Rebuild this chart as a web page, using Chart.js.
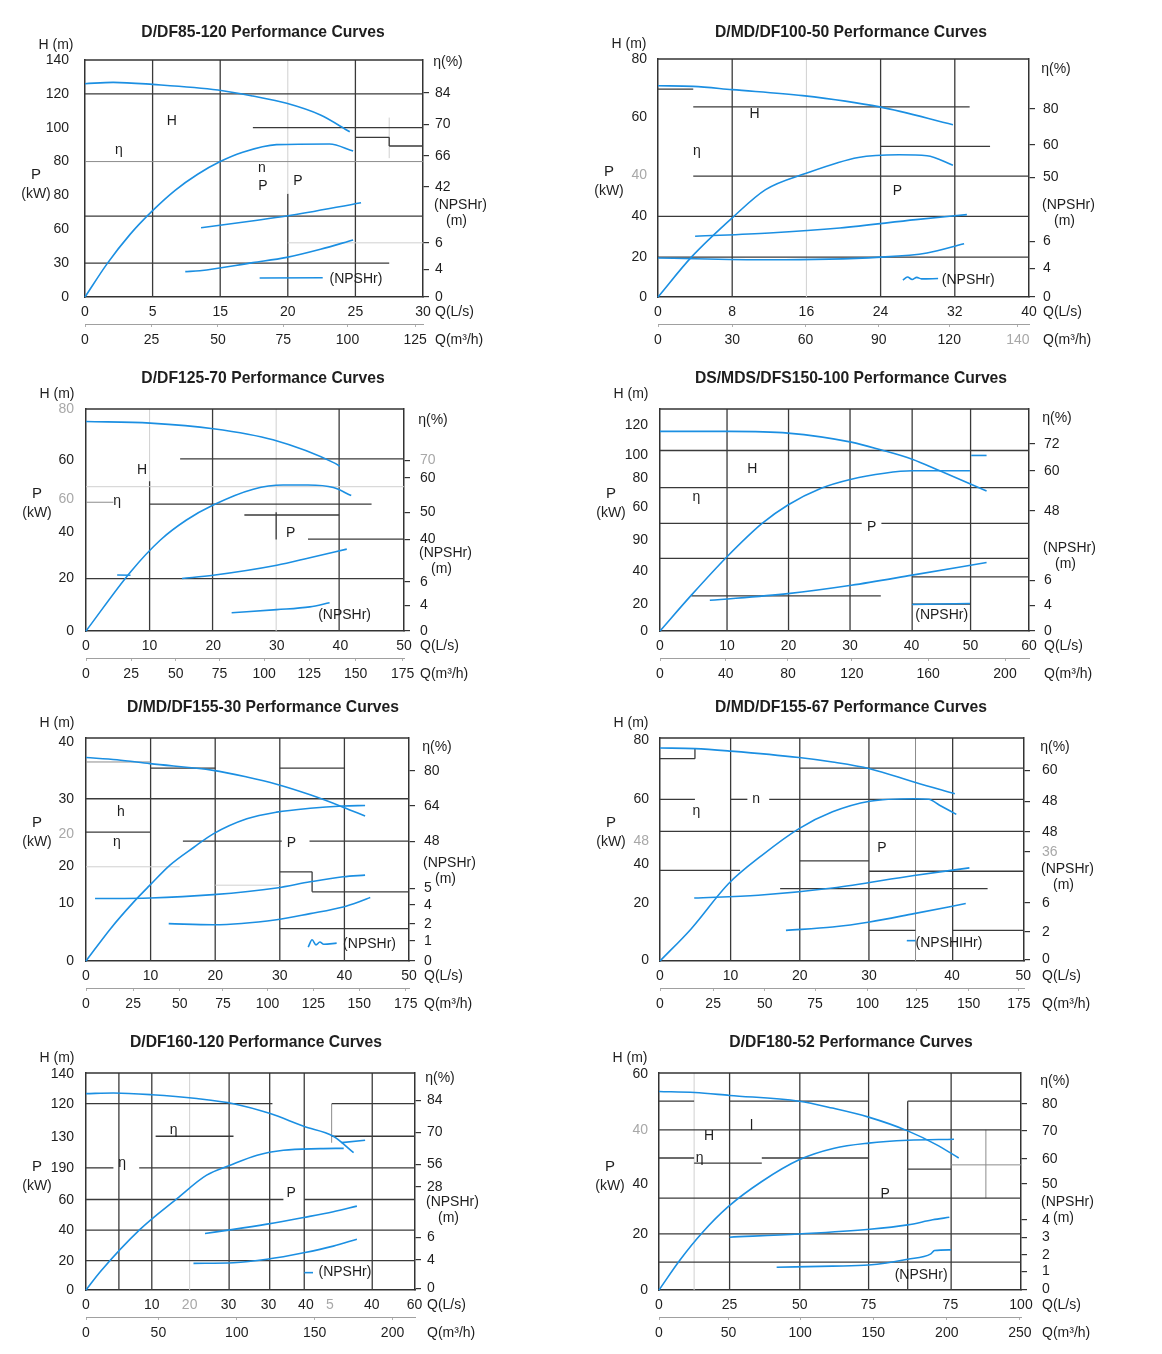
<!DOCTYPE html>
<html>
<head>
<meta charset="utf-8">
<script src="https://cdn.jsdelivr.net/npm/chart.js@4.4.1/dist/chart.umd.min.js"></script>
<style>
  html, body { margin: 0; padding: 0; background: #fff; }
  #page { position: relative; width: 1162px; height: 1354px; overflow: hidden; }
  .box { position: absolute; }
</style>
</head>
<body>
<div id="page">
  <div class="box" style="left:0;top:0;width:580px;height:360px"><canvas id="c1"></canvas></div>
  <div class="box" style="left:580px;top:0;width:582px;height:360px"><canvas id="c2"></canvas></div>
  <div class="box" style="left:0;top:360px;width:580px;height:328px"><canvas id="c3"></canvas></div>
  <div class="box" style="left:580px;top:360px;width:582px;height:328px"><canvas id="c4"></canvas></div>
  <div class="box" style="left:0;top:688px;width:580px;height:332px"><canvas id="c5"></canvas></div>
  <div class="box" style="left:580px;top:688px;width:582px;height:332px"><canvas id="c6"></canvas></div>
  <div class="box" style="left:0;top:1020px;width:580px;height:334px"><canvas id="c7"></canvas></div>
  <div class="box" style="left:580px;top:1020px;width:582px;height:334px"><canvas id="c8"></canvas></div>
</div>
<script>
// ---- chart 1: D/DF85-120
const c1Title = "D/DF85-120 Performance Curves";
const c1Range = [30, 140];
const c1YVals = [0, 20, 40, 60, 80, 100, 120, 140];
const c1YLabs = ["0", "30", "60", "80", "80", "100", "120", "140"];
const c1RVals = [0, 16.4, 32, 65, 83.3, 102, 120.6];
const c1RLabs = ["0", "4", "6", "42", "66", "70", "84"];
const c1XVals = [0, 6, 12, 18, 24, 30];
const c1XLabs = ["0", "5", "15", "20", "25", "30"];
const c1QVals = [0, 5.9, 11.8, 17.6, 23.3, 29.3];
const c1QLabs = ["0", "25", "50", "75", "100", "125"];
const c1H = [[0, 126], [2.5, 126.8], [6, 125.6], [11.8, 122.3], [14.9, 118.7], [17.9, 114.4], [20.9, 107.5], [23.5, 97.6]];
const c1Eta = [[0, 0], [2, 20], [4, 37], [6, 51], [8, 63], [10, 72.5], [12, 80], [14, 85.5], [17, 90], [21.7, 90.4], [23.8, 86.2]];
const c1P = [[10.3, 40.9], [14.8, 44.9], [17.9, 47.8], [24.5, 55.7]];
const c1Npsh = [[8.9, 15], [10.2, 15.5], [14.9, 20.3], [17.9, 23.4], [20.9, 28.2], [23.8, 33.7]];
const c1Keys = [[[15.5, 11.2], [21.1, 11.4]]];
const c1Notes = [["H", 7.7, 103.6], ["η", 3, 86.8], ["n", 15.7, 76], ["P", 15.8, 65.7], ["P", 18.9, 68.5], ["(NPSHr)", 21.7, 10.6, "l"]];
const c1Grid = [
  ["v", 6, 0, 140, 1], ["v", 12, 0, 140, 1], ["v", 18, 0, 61, 1], ["v", 18, 61, 140, 0], ["v", 24, 0, 140, 1],
  ["v", 27, 82, 106, 0], ["v", 27, 89.2, 94.3, 1],
  ["h", 120, 0, 30, 1], ["h", 100, 14.9, 30, 1], ["h", 80, 0, 30, 0.5], ["h", 94.3, 24, 27, 1], ["h", 89.2, 27, 30, 1],
  ["h", 47.8, 0, 30, 1], ["h", 32, 18, 30, 0], ["h", 20, 0, 27, 1]
];

// ---- chart 2: D/MD/DF100-50
const c2Title = "D/MD/DF100-50 Performance Curves";
const c2Range = [40, 80];
const c2YVals = [0, 13.4, 27.3, 41.1, 60.5, 80];
const c2YLabs = ["0", "20", "40", "40", "60", "80"];
const c2RVals = [0, 9.7, 18.7, 40.2, 51.2, 63.2];
const c2RLabs = ["0", "4", "6", "50", "60", "80"];
const c2XVals = [0, 8, 16, 24, 32, 40];
const c2XLabs = ["0", "8", "16", "24", "32", "40"];
const c2QVals = [0, 8, 15.9, 23.8, 31.4, 38.8];
const c2QLabs = ["0", "30", "60", "90", "120", "140"];
const c2H = [[0, 71], [3.8, 70.8], [8, 69.7], [15.6, 67.7], [23.9, 63.9], [31.8, 57.9]];
const c2Eta = [[0, 0], [3.6, 13.4], [8, 26.6], [11.6, 36.1], [15.9, 41.5], [21.6, 46.9], [26, 47.8], [29, 47.5], [31.8, 44.3]];
const c2P = [[4, 20.4], [12, 21.5], [19.6, 23.2], [27.8, 26], [33.3, 27.7]];
const c2Npsh = [[0, 13.1], [12, 12.5], [24, 13.4], [29, 14.8], [33, 17.9]];
const c2Keys = [[[26.4, 5.7], [26.9, 6.7], [27.4, 5.9], [27.9, 6.6], [28.4, 6.1], [30.2, 6.2]]];
const c2Notes = [["H", 10.4, 61.5], ["η", 4.2, 49], ["P", 25.8, 35.5], ["(NPSHr)", 30.6, 5.8, "l"]];
const c2Grid = [
  ["v", 8, 0, 80, 1], ["v", 16, 0, 80, 0], ["v", 24, 0, 80, 1], ["v", 32, 0, 80, 1],
  ["h", 69.9, 0, 3.8, 1], ["h", 63.9, 3.8, 33.6, 1], ["h", 50.6, 24, 35.8, 1], ["h", 40.6, 3.8, 40, 1],
  ["h", 27.1, 0, 40, 1], ["h", 13.4, 0, 40, 1]
];

// ---- chart 3: D/DF125-70
const c3Title = "D/DF125-70 Performance Curves";
const c3Range = [50, 80];
const c3YVals = [0, 18.9, 35.8, 47.6, 61.4, 80];
const c3YLabs = ["0", "20", "40", "60", "60", "80"];
const c3RVals = [0, 9.3, 17.7, 33.1, 42.8, 55.1, 61.4];
const c3RLabs = ["0", "4", "6", "40", "50", "60", "70"];
const c3XVals = [0, 10, 20, 30, 40, 50];
const c3XLabs = ["0", "10", "20", "30", "40", "50"];
const c3QVals = [0, 7.1, 14.1, 21, 28, 35.1, 42.4, 49.8];
const c3QLabs = ["0", "25", "50", "75", "100", "125", "150", "175"];
const c3H = [[0, 75.5], [10.1, 74.9], [20, 72.9], [29.4, 68.9], [39.1, 60.5], [39.9, 59.4]];
const c3Eta = [[0, 0], [7, 21.3], [11.7, 32.8], [15.8, 40], [20, 45.4], [26.3, 51.1], [31, 52.6], [34.9, 52.6], [38.9, 51.7], [41.7, 48.8]];
const c3P = [[15.1, 18.9], [20, 20.1], [30, 23.7], [35.2, 26.4], [41, 29.5]];
const c3Npsh = [[22.9, 6.6], [30, 7.7], [35.2, 8.7], [38.3, 10.2]];
const c3Keys = [[[4.9, 20.2], [7, 20.1]]];
const c3Notes = [["H", 8.8, 57.8], ["η", 4.9, 46.9], ["P", 32.2, 35.4], ["(NPSHr)", 36.5, 5.7, "l"]];
const c3Grid = [
  ["v", 10, 0, 54, 1], ["v", 10, 54, 80, 0], ["v", 19.9, 0, 80, 1], ["v", 29.9, 0, 80, 0], ["v", 29.9, 33, 42.8, 1], ["v", 39.8, 0, 80, 1],
  ["h", 62, 14.8, 50, 1], ["h", 52, 0, 50, 0], ["h", 46.4, 0, 4.3, 0.5], ["h", 45.7, 10, 44.9, 1], ["h", 41.8, 24.9, 39.8, 1],
  ["h", 33.1, 34.9, 50, 1], ["h", 18.9, 0, 50, 1]
];

// ---- chart 4: DS/MDS/DFS150-100
const c4Title = "DS/MDS/DFS150-100 Performance Curves";
const c4Range = [60, 130];
const c4YVals = [0, 15.7, 35, 53.3, 72.3, 89.5, 103.2, 120.8];
const c4YLabs = ["0", "20", "40", "90", "60", "80", "100", "120"];
const c4RVals = [0, 15.1, 29.8, 70.3, 93.8, 109.6];
const c4RLabs = ["0", "4", "6", "48", "60", "72"];
const c4XVals = [0, 10.9, 20.9, 30.9, 40.9, 50.5, 60];
const c4XLabs = ["0", "10", "20", "30", "40", "50", "60"];
const c4QVals = [0, 10.7, 20.8, 31.2, 43.6, 56.1];
const c4QLabs = ["0", "40", "80", "120", "160", "200"];
const c4H = [[0, 116.9], [11.2, 116.9], [20.8, 115.9], [31.1, 110.6], [35.9, 106.1], [41, 100.6], [45.5, 93.8], [53.1, 82]];
const c4Eta = [[0, 0], [5.1, 21], [10.9, 43.5], [16.6, 63], [20.8, 73.8], [26.2, 83.6], [31.1, 88.9], [36.5, 92.4], [41, 93.8], [50.4, 93.8]];
const c4P = [[8.1, 18], [20.8, 21.9], [31.1, 26.8], [41, 32.7], [53.1, 40.1]];
const c4Npsh = [[41, 15.5], [50.4, 16.1]];
const c4Keys = [[[50.6, 102.8], [53.1, 102.8]]];
const c4Notes = [["H", 15, 94.8], ["η", 5.9, 78.1], ["P", 34.4, 61.1], ["(NPSHr)", 41.5, 9.2, "l"]];
const c4Grid = [
  ["v", 10.9, 0, 130, 1], ["v", 20.9, 0, 130, 1], ["v", 30.9, 0, 130, 1], ["v", 41, 0, 130, 1], ["v", 50.5, 0, 130, 1],
  ["h", 105.7, 0, 60, 1], ["h", 84, 0, 60, 1], ["h", 63, 0, 32.8, 1], ["h", 63, 36, 60, 1], ["h", 42.5, 0, 60, 1],
  ["h", 31.7, 41, 60, 1], ["h", 20.6, 5.1, 35.9, 1], ["h", 15.7, 41, 50.5, 1]
];

// ---- chart 5: D/MD/DF155-30
const c5Title = "D/MD/DF155-30 Performance Curves";
const c5Range = [50, 40];
const c5YVals = [0, 10.3, 17, 22.8, 29, 39.3];
const c5YLabs = ["0", "10", "20", "20", "30", "40"];
const c5RVals = [0, 3.6, 6.7, 10.1, 13, 21.5, 27.8, 34.1];
const c5RLabs = ["0", "1", "2", "4", "5", "48", "64", "80"];
const c5XVals = [0, 10, 20, 30, 40, 50];
const c5XLabs = ["0", "10", "20", "30", "40", "50"];
const c5QVals = [0, 7.3, 14.5, 21.2, 28.1, 35.2, 42.3, 49.5];
const c5QLabs = ["0", "25", "50", "75", "100", "125", "150", "175"];
const c5H = [[0, 36.5], [4.8, 36.1], [9.9, 35.4], [19.7, 34.2], [24.9, 33], [29.5, 31.7], [34.7, 29.8], [39.8, 27.6], [43.2, 26]];
const c5Eta = [[0, 0], [3.8, 5.8], [7.4, 10.6], [9.9, 13.6], [13, 17.2], [16.7, 20.4], [19.7, 22.8], [24.9, 25.5], [29.5, 26.7], [34.7, 27.4], [39.8, 27.8], [43.2, 27.9]];
const c5P = [[1.4, 11.2], [9.9, 11.3], [19.7, 11.9], [29.5, 13.1], [34.7, 14.2], [39.8, 15.1], [43.2, 15.4]];
const c5Npsh = [[12.8, 6.7], [19.7, 6.5], [29.5, 7.4], [34.7, 8.5], [39.8, 9.7], [42.2, 10.6], [44, 11.4]];
const c5Keys = [[[34.4, 2.5], [35, 3.8], [35.6, 2.9], [36.2, 3.4], [36.8, 3], [38.8, 3.2]]];
const c5Notes = [["h", 5.4, 26.7], ["η", 4.8, 21.3], ["P", 31.8, 21.2], ["(NPSHr)", 39.8, 3.1, "l"]];
const c5Grid = [
  ["v", 10, 0, 40, 1], ["v", 20, 0, 40, 1], ["v", 30, 0, 40, 1], ["v", 40, 0, 40, 1], ["v", 35, 12.4, 16, 1],
  ["h", 35.7, 0, 10, 0.5], ["h", 34.6, 10, 20, 1], ["h", 34.6, 30, 40, 1], ["h", 29.1, 0, 50, 1], ["h", 23.1, 0, 10, 1],
  ["h", 21.5, 15, 30.3, 1], ["h", 21.5, 34.6, 50, 1], ["h", 16.9, 0, 14.5, 0], ["h", 16, 30, 35, 1],
  ["h", 13.6, 20, 30, 0], ["h", 12.4, 35, 50, 1], ["h", 5.8, 30, 50, 1]
];

// ---- chart 6: D/MD/DF155-67
const c6Title = "D/MD/DF155-67 Performance Curves";
const c6Range = [50, 80];
const c6YVals = [0.2, 20.9, 34.7, 42.9, 58.2, 79.2];
const c6YLabs = ["0", "20", "40", "48", "60", "80"];
const c6RVals = [0.6, 10.4, 20.9, 39.1, 46.3, 57.3, 68.4];
const c6RLabs = ["0", "2", "6", "36", "48", "48", "60"];
const c6XVals = [0, 9.7, 19.2, 28.7, 40.1, 49.9];
const c6XLabs = ["0", "10", "20", "30", "40", "50"];
const c6QVals = [0, 7.3, 14.4, 21.3, 28.5, 35.3, 42.4, 49.3];
const c6QLabs = ["0", "25", "50", "75", "100", "125", "150", "175"];
const c6H = [[0, 76.4], [4.8, 76.2], [9.7, 75.3], [19.1, 73], [23.7, 71.4], [28.8, 69], [35.1, 64], [40.5, 60]];
const c6Eta = [[0, 0], [4.3, 11.6], [9.4, 27.7], [14, 37.9], [19.1, 47.5], [23.7, 53.5], [28.8, 57.3], [34.9, 58.2], [36.9, 58], [38.4, 55.9], [40.7, 52.6]];
const c6P = [[4.7, 22.6], [13.5, 23.6], [23.7, 26.2], [34.9, 30.7], [42.5, 33.4]];
const c6Npsh = [[17.3, 11], [23.7, 12.2], [28.8, 14], [34.9, 17], [42, 20.6]];
const c6Keys = [[[33.9, 7.3], [35.1, 7.3]]];
const c6Notes = [["n", 13.2, 58.2], ["η", 5, 53.7], ["P", 30.5, 40.5], ["(NPSHIHr)", 35.1, 6.4, "l"]];
const c6Grid = [
  ["v", 9.7, 0, 80, 1], ["v", 19.2, 0, 80, 1], ["v", 28.7, 0, 80, 1], ["v", 35.1, 0, 80, 0.5], ["v", 40.2, 0, 80, 1], ["v", 4.8, 72.6, 76.4, 1],
  ["h", 72.6, 0, 4.8, 1], ["h", 69.2, 19.2, 50, 1], ["h", 58, 0, 4.8, 1], ["h", 58, 9.7, 12, 1], ["h", 58, 15, 50, 1],
  ["h", 46.5, 0, 50, 1], ["h", 35.9, 19.2, 28.7, 1], ["h", 32.5, 0, 11, 1], ["h", 32.2, 28.7, 50, 1],
  ["h", 26, 16.5, 45, 1], ["h", 11, 28.7, 35.1, 1], ["h", 11, 40.2, 50, 1]
];

// ---- chart 7: D/DF160-120
const c7Title = "D/DF160-120 Performance Curves";
const c7Range = [60, 140];
const c7YVals = [0, 18.9, 38.6, 58, 78.8, 98.8, 119.8, 139];
const c7YLabs = ["0", "20", "40", "60", "190", "130", "120", "140"];
const c7RVals = [1.1, 19.3, 33.9, 66.6, 81.2, 101.6, 122.4];
const c7RLabs = ["0", "4", "6", "28", "56", "70", "84"];
const c7XVals = [0, 12, 18.9, 26, 33.3, 40.1, 44.5, 52.1, 59.9];
const c7XLabs = ["0", "10", "20", "30", "30", "40", "5", "40", "60"];
const c7QVals = [0, 13.2, 27.5, 41.7, 55.9];
const c7QLabs = ["0", "50", "100", "150", "200"];
const c7H = [[0, 126.7], [5, 127.1], [12, 126], [20.2, 123.5], [26.9, 120.2], [33.6, 113.8], [39.7, 105.6], [45.1, 99.2], [48.8, 88.6]];
const c7Eta = [[0, 0], [2.6, 11.8], [9.9, 39.3], [16.6, 59], [22, 74.1], [26.3, 80.5], [31.2, 87], [36, 90.2], [42.7, 91.2], [47, 91.4]];
const c7P = [[21.7, 36.5], [26.9, 39.1], [33, 42.5], [39.7, 46.8], [45.1, 50.5], [49.4, 54.1]];
const c7Npsh = [[19.6, 17.2], [26.9, 17.6], [33, 19.8], [39.7, 24], [45.1, 28.3], [49.4, 32.8]];
const c7Keys = [[[39.8, 11.2], [41.4, 11.2]], [[46.6, 95.1], [50.9, 96.6]]];
const c7Notes = [["η", 16, 103], ["η", 6.6, 81.6], ["P", 37.4, 62.3], ["(NPSHr)", 42.4, 11.2, "l"]];
const c7Grid = [
  ["v", 6, 0, 140, 1], ["v", 12, 0, 140, 1], ["v", 18.9, 0, 140, 0], ["v", 26.1, 0, 140, 1], ["v", 33.5, 0, 140, 1],
  ["v", 39.8, 0, 140, 1], ["v", 44.8, 95, 120, 0.5], ["v", 52.2, 0, 140, 1],
  ["h", 120.2, 0, 34, 1], ["h", 120.2, 44.8, 60, 1], ["h", 99.2, 12.7, 26.9, 1], ["h", 99.2, 44.8, 60, 1],
  ["h", 78.8, 0, 5, 1], ["h", 78.8, 9.7, 60, 1], ["h", 58.4, 0, 36, 1], ["h", 58.4, 39.8, 60, 1],
  ["h", 38.6, 0, 60, 1], ["h", 18.9, 0, 60, 1]
];

// ---- chart 8: D/DF180-52
const c8Title = "D/DF180-52 Performance Curves";
const c8Range = [100, 60];
const c8YVals = [0, 15.5, 29.4, 44.1, 59.7];
const c8YLabs = ["0", "20", "40", "40", "60"];
const c8RVals = [0.2, 5.1, 9.7, 14.6, 19.4, 29.3, 36.2, 44, 51.5];
const c8RLabs = ["0", "1", "2", "3", "4", "50", "60", "70", "80"];
const c8XVals = [0, 19.5, 38.9, 57.9, 80.5, 100];
const c8XLabs = ["0", "25", "50", "75", "75", "100"];
const c8QVals = [0, 19.2, 39, 59.2, 79.5, 99.7];
const c8QLabs = ["0", "50", "100", "150", "200", "250"];
const c8H = [[0, 54.9], [9.9, 54.6], [19.5, 53.8], [38.7, 52.2], [47.9, 50.3], [57.9, 47.8], [68.7, 44], [76.6, 40.2], [82.8, 36.5]];
const c8Eta = [[0, 0], [5.8, 8.3], [12, 15.9], [19.2, 23.1], [28.4, 30], [38.7, 36], [48.4, 39.2], [57.9, 40.6], [68.7, 41.4], [81.5, 41.7]];
const c8P = [[19.5, 14.6], [38.7, 15.5], [58.2, 16.8], [68.7, 18], [75.6, 19.4], [80.2, 20.1]];
const c8Npsh = [[32.5, 6.3], [47.9, 6.6], [57.9, 6.9], [68.7, 8.5], [75.1, 10], [76.1, 10.9], [80.7, 11.1]];
const c8Keys = [];
const c8Notes = [["H", 13.8, 42.6], ["l", 25.6, 45.2], ["η", 11.2, 36.5], ["P", 62.5, 26.5], ["(NPSHr)", 65.1, 4.2, "l"]];
const c8Grid = [
  ["v", 9.7, 0, 60, 0], ["v", 19.5, 0, 60, 1], ["v", 38.9, 0, 60, 1], ["v", 57.9, 0, 60, 1], ["v", 68.7, 0, 52.2, 1],
  ["v", 80.7, 0, 60, 1], ["v", 90.3, 25.4, 44.3, 0.5],
  ["h", 52.2, 0, 9.7, 1], ["h", 52.2, 19.5, 57.9, 1], ["h", 52.2, 68.7, 100, 1], ["h", 44.3, 0, 100, 1],
  ["h", 36.5, 0, 9.7, 1], ["h", 36.5, 28.4, 57.9, 1], ["h", 35.1, 9.7, 28.4, 1], ["h", 33.4, 68.7, 80.7, 1],
  ["h", 34.6, 80.7, 100, 0.5], ["h", 25.4, 0, 100, 1], ["h", 15.5, 0, 100, 1], ["h", 7.7, 0, 100, 1]
];

// page layout of each panel (canvas box, plot frame and outside labels, in page px)
const L1 = { box: [0, 0, 580, 360], frame: [85, 60, 423, 297], title: [263, 33], lx: 435, etaY: 62, npY: 205, pY: 175, lp: 16, fy: [], fr: [], fx: [], fq: [] };
const L2 = { box: [580, 0, 582, 360], frame: [658, 59, 1029, 297], title: [851, 33], lx: 1043, etaY: 69, npY: 205, pY: 172, lp: 11, fy: [3], fr: [], fx: [], fq: [5] };
const L3 = { box: [0, 360, 580, 328], frame: [86, 409, 404, 631], title: [263, 379], lx: 420, etaY: 420, npY: 553, pY: 494, lp: 12, fy: [3, 5], fr: [6], fx: [], fq: [] };
const L4 = { box: [580, 360, 582, 328], frame: [660, 409, 1029, 631], title: [851, 379], lx: 1044, etaY: 418, npY: 548, pY: 494, lp: 12, fy: [], fr: [], fx: [], fq: [] };
const L5 = { box: [0, 688, 580, 332], frame: [86, 738, 409, 961], title: [263, 708], lx: 424, etaY: 747, npY: 863, pY: 823, lp: 12, fy: [3], fr: [], fx: [], fq: [] };
const L6 = { box: [580, 688, 582, 332], frame: [660, 738, 1024, 961], title: [851, 708], lx: 1042, etaY: 747, npY: 869, pY: 823, lp: 11, fy: [3], fr: [3], fx: [], fq: [] };
const L7 = { box: [0, 1020, 580, 334], frame: [86, 1073, 415, 1290], title: [256, 1043], lx: 427, etaY: 1078, npY: 1202, pY: 1167, lp: 12, fy: [], fr: [], fx: [2, 6], fq: [] };
const L8 = { box: [580, 1020, 582, 334], frame: [659, 1073, 1021, 1290], title: [851, 1043], lx: 1042, etaY: 1081, npY: 1202, pY: 1167, lp: 11, fy: [3], fr: [], fx: [], fq: [] };

const BLUE = "#1b8fe2";
const INK = "#1e1e1e";
const FADE = "#a8a8a8";
const FONT = '"Liberation Sans", Arial, Helvetica, sans-serif';
Chart.defaults.font.family = FONT;
Chart.defaults.font.size = 14;
Chart.defaults.color = INK;

const SPEC = {};

function put(ctx, t, x, y, font, align) {
  ctx.font = font;
  ctx.textAlign = align;
  ctx.textBaseline = "middle";
  ctx.fillStyle = INK;
  ctx.fillText(t, x, y);
}

const decor = {
  id: "decor",
  beforeDatasetsDraw(chart) {
    const s = SPEC[chart.canvas.id];
    const { ctx, chartArea: a, scales: { x, y } } = chart;
    ctx.save();
    s.grid.forEach(([k, v, p0, p1, sh]) => {
      ctx.strokeStyle = sh >= 1 ? "#3a3a3a" : sh > 0 ? "#8c8c8c" : "#d0d0d0";
      ctx.lineWidth = sh >= 1 ? 1.3 : 1;
      ctx.beginPath();
      if (k === "h") {
        const py = y.getPixelForValue(v);
        ctx.moveTo(x.getPixelForValue(p0), py);
        ctx.lineTo(x.getPixelForValue(p1), py);
      } else {
        const px = x.getPixelForValue(v);
        ctx.moveTo(px, y.getPixelForValue(p0));
        ctx.lineTo(px, y.getPixelForValue(p1));
      }
      ctx.stroke();
    });
    ctx.strokeStyle = "#333";
    ctx.lineWidth = 1.5;
    ctx.beginPath();
    ctx.moveTo(a.left, a.top);
    ctx.lineTo(a.right, a.top);
    ctx.stroke();
    ctx.restore();
  },
  afterDraw(chart) {
    const s = SPEC[chart.canvas.id];
    const L = s.L;
    const { ctx, chartArea: a, scales: { x, y } } = chart;
    const ox = L.box[0], oy = L.box[1];
    const f = "14px " + FONT;
    ctx.save();
    put(ctx, s.title, L.title[0] - ox, L.title[1] - oy, "bold 15.7px " + FONT, "center");
    put(ctx, "H (m)", a.left - 29, a.top - 15, f, "center");
    put(ctx, "P", a.left - 49, L.pY - oy, "15px " + FONT, "center");
    put(ctx, "(kW)", a.left - 49, L.pY + 19 - oy, f, "center");
    put(ctx, "η(%)", L.lx + 13 - ox, L.etaY - oy, f, "center");
    put(ctx, "(NPSHr)", L.lx - 1 - ox, L.npY - oy, f, "left");
    put(ctx, "(m)", L.lx + 11 - ox, L.npY + 16 - oy, f, "left");
    put(ctx, "Q(L/s)", L.lx - ox, a.bottom + 15, f, "left");
    put(ctx, "Q(m³/h)", L.lx - ox, a.bottom + 43, f, "left");
    s.notes.forEach(([t, vx, vy, al]) => {
      put(ctx, t, x.getPixelForValue(vx), y.getPixelForValue(vy), f, al === "l" ? "left" : "center");
    });
    ctx.restore();
  }
};

function line(pts) {
  return {
    data: pts, borderColor: BLUE, borderWidth: 1.6, pointRadius: 0, fill: false,
    cubicInterpolationMode: "monotone", clip: false
  };
}

function build(id, d) {
  SPEC[id] = d;
  const L = d.L;
  const [bx, by, bw, bh] = L.box;
  const [fl, ft, fr, fb] = L.frame;
  const tint = list => c => (list.includes(c.index) ? FADE : INK);
  const curves = [d.h, d.eta, d.p, d.npsh].concat(d.keys);
  new Chart(document.getElementById(id), {
    type: "line",
    data: { datasets: curves.map(line) },
    plugins: [decor],
    options: {
      responsive: true,
      maintainAspectRatio: false,
      animation: false,
      events: [],
      layout: { padding: { left: fl - bx - 60, right: bx + bw - fr - 50, top: ft - by, bottom: by + bh - fb - 51 } },
      plugins: { legend: { display: false }, tooltip: { enabled: false }, title: { display: false } },
      scales: {
        x: {
          type: "linear", position: "bottom", min: 0, max: d.range[0], weight: 0,
          afterBuildTicks: sc => { sc.ticks = d.xv.map(v => ({ value: v })); },
          afterFit: sc => { sc.height = 27; },
          grid: { display: false, drawTicks: false },
          border: { display: true, color: "#333", width: 1.5 },
          ticks: { autoSkip: false, maxRotation: 0, padding: 7, callback: (v, i) => d.xl[i], color: tint(L.fx) }
        },
        x2: {
          type: "linear", position: "bottom", min: 0, max: d.range[0], weight: 1,
          afterBuildTicks: sc => { sc.ticks = d.qv.map(v => ({ value: v })); },
          afterFit: sc => { sc.height = 24; },
          grid: { display: true, drawOnChartArea: false, drawTicks: true, tickLength: 3, color: "#b0b0b0" },
          border: { display: true, color: "#a0a0a0", width: 1 },
          ticks: { autoSkip: false, maxRotation: 0, padding: 5, callback: (v, i) => d.ql[i], color: tint(L.fq) }
        },
        y: {
          type: "linear", position: "left", min: 0, max: d.range[1],
          afterBuildTicks: sc => { sc.ticks = d.yv.map(v => ({ value: v })); },
          afterFit: sc => { sc.width = 60; },
          grid: { display: false, drawTicks: false },
          border: { display: true, color: "#333", width: 1.5 },
          ticks: { autoSkip: false, padding: L.lp, callback: (v, i) => d.yl[i], color: tint(L.fy) }
        },
        y2: {
          type: "linear", position: "right", min: 0, max: d.range[1],
          afterBuildTicks: sc => { sc.ticks = d.rv.map(v => ({ value: v })); },
          afterFit: sc => { sc.width = 50; },
          grid: { display: true, drawOnChartArea: false, drawTicks: true, tickLength: 6, color: "#333", lineWidth: 1.2 },
          border: { display: true, color: "#333", width: 1.5 },
          ticks: { autoSkip: false, padding: L.lx - fr - 6, callback: (v, i) => d.rl[i], color: tint(L.fr) }
        }
      }
    }
  });
}

build("c1", { L: L1, title: c1Title, range: c1Range, yv: c1YVals, yl: c1YLabs, rv: c1RVals, rl: c1RLabs, xv: c1XVals, xl: c1XLabs, qv: c1QVals, ql: c1QLabs, h: c1H, eta: c1Eta, p: c1P, npsh: c1Npsh, keys: c1Keys, notes: c1Notes, grid: c1Grid });
build("c2", { L: L2, title: c2Title, range: c2Range, yv: c2YVals, yl: c2YLabs, rv: c2RVals, rl: c2RLabs, xv: c2XVals, xl: c2XLabs, qv: c2QVals, ql: c2QLabs, h: c2H, eta: c2Eta, p: c2P, npsh: c2Npsh, keys: c2Keys, notes: c2Notes, grid: c2Grid });
build("c3", { L: L3, title: c3Title, range: c3Range, yv: c3YVals, yl: c3YLabs, rv: c3RVals, rl: c3RLabs, xv: c3XVals, xl: c3XLabs, qv: c3QVals, ql: c3QLabs, h: c3H, eta: c3Eta, p: c3P, npsh: c3Npsh, keys: c3Keys, notes: c3Notes, grid: c3Grid });
build("c4", { L: L4, title: c4Title, range: c4Range, yv: c4YVals, yl: c4YLabs, rv: c4RVals, rl: c4RLabs, xv: c4XVals, xl: c4XLabs, qv: c4QVals, ql: c4QLabs, h: c4H, eta: c4Eta, p: c4P, npsh: c4Npsh, keys: c4Keys, notes: c4Notes, grid: c4Grid });
build("c5", { L: L5, title: c5Title, range: c5Range, yv: c5YVals, yl: c5YLabs, rv: c5RVals, rl: c5RLabs, xv: c5XVals, xl: c5XLabs, qv: c5QVals, ql: c5QLabs, h: c5H, eta: c5Eta, p: c5P, npsh: c5Npsh, keys: c5Keys, notes: c5Notes, grid: c5Grid });
build("c6", { L: L6, title: c6Title, range: c6Range, yv: c6YVals, yl: c6YLabs, rv: c6RVals, rl: c6RLabs, xv: c6XVals, xl: c6XLabs, qv: c6QVals, ql: c6QLabs, h: c6H, eta: c6Eta, p: c6P, npsh: c6Npsh, keys: c6Keys, notes: c6Notes, grid: c6Grid });
build("c7", { L: L7, title: c7Title, range: c7Range, yv: c7YVals, yl: c7YLabs, rv: c7RVals, rl: c7RLabs, xv: c7XVals, xl: c7XLabs, qv: c7QVals, ql: c7QLabs, h: c7H, eta: c7Eta, p: c7P, npsh: c7Npsh, keys: c7Keys, notes: c7Notes, grid: c7Grid });
build("c8", { L: L8, title: c8Title, range: c8Range, yv: c8YVals, yl: c8YLabs, rv: c8RVals, rl: c8RLabs, xv: c8XVals, xl: c8XLabs, qv: c8QVals, ql: c8QLabs, h: c8H, eta: c8Eta, p: c8P, npsh: c8Npsh, keys: c8Keys, notes: c8Notes, grid: c8Grid });
</script>
</body>
</html>
